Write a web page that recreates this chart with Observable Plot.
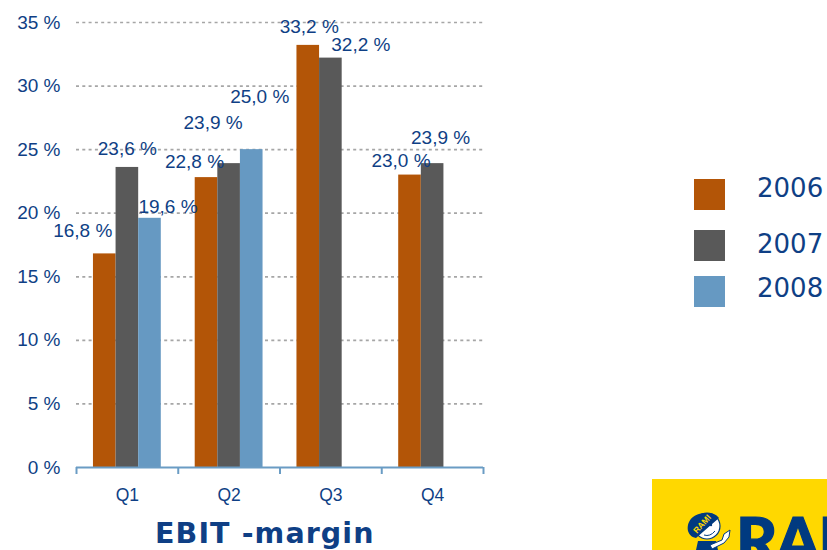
<!DOCTYPE html>
<html><head><meta charset="utf-8">
<script src="https://cdn.jsdelivr.net/npm/d3@7"></script>
<script src="https://cdn.jsdelivr.net/npm/@observablehq/plot@0.6"></script>
<style>
html,body{margin:0;padding:0;background:#fff;overflow:hidden}
#stage{position:relative;width:827px;height:550px;overflow:hidden}
#chart svg{display:block}
.swatch{position:absolute;left:694px;width:31px;height:31px}
.year{position:absolute;left:757px;font:26px "DejaVu Sans";color:#0F3F85;line-height:30px}
#title{position:absolute;left:155px;top:517px;font:bold 28.5px "DejaVu Sans";color:#0F3F85;letter-spacing:1.1px;white-space:nowrap;line-height:34px}
#logo{position:absolute;left:652px;top:479px;width:175px;height:71px;background:#FFD800;overflow:hidden}
#logo .word{position:absolute;left:84px;top:29px;font:900 64px "Lato";color:#003A80;line-height:64px;letter-spacing:-2px;-webkit-text-stroke:1.2px #003A80}
#logo svg{position:absolute;left:30px;top:28px}
</style></head><body>
<div id="stage">
<div id="chart"></div>
<div id="title">EBIT -margin</div>
<div id="legend"></div>
<div id="logo">
  <div class="word">RAM</div>
  <svg width="52" height="43" viewBox="0 0 52 43">
    <path d="M16 34 L34 34 L36 43 L14 43 Z" fill="#003A80"/>
    <path d="M28 38 L40 33 L42 27 L48 23 L47 30 L42 36 L30 42 Z" fill="#fff" stroke="#003A80" stroke-width="1"/>
    <circle cx="25" cy="19" r="13" fill="#fff" stroke="#003A80" stroke-width="1.2"/>
    <path d="M6 24 C4 12 14 5 26 6 C31 6 35 8 37 11 L14 31 C9 30 7 27 6 24 Z" fill="#003A80"/>
    <text x="0" y="0" transform="translate(15 27) rotate(-48)" font-family="Liberation Sans" font-weight="700" font-size="8.5" fill="#FFD800">RAMI</text>
    <circle cx="29" cy="18" r="1.2" fill="#003A80"/>
    <path d="M22 28 Q28 30 33 24" stroke="#003A80" fill="none"/>
  </svg>
</div>
</div>
<script>
const quarters = ["Q1", "Q2", "Q3", "Q4"];
const years = ["2006", "2007", "2008"];
const values2006 = [16.8, 22.8, 33.2, 23.0];
const values2007 = [23.6, 23.9, 32.2, 23.9];
const values2008 = [19.6, 25.0, null, null];
const colors = ["#B35507", "#595959", "#6699C2"];
const ink = "#0F3F85";
const axisBlue = "#6A9CC4";

const series = [values2006, values2007, values2008];
const rows = [];
series.forEach((vals, yi) => vals.forEach((v, qi) => {
  if (v != null) rows.push({quarter: quarters[qi], qi, yi, year: years[yi], value: v});
}));

// label nudges as placed in the source slide [dx, dy], keyed by quarter + year
const nudges = {
  "Q1 2006": [-22, -23], "Q1 2007": [0, -19], "Q1 2008": [18, -11],
  "Q2 2006": [-12, -16], "Q2 2007": [-16, -41], "Q2 2008": [8, -53],
  "Q3 2006": [1, -18], "Q3 2007": [30, -13],
  "Q4 2006": [-9, -14], "Q4 2007": [8, -26]
};
const fmt = v => v.toFixed(1).replace(".", ",") + " %";
const barOffset = 1 / 6, barStep = 2 / 9;

const plot = Plot.plot({
  width: 827, height: 550,
  marginLeft: 76, marginRight: 344, marginTop: 22, marginBottom: 83,
  style: {fontFamily: "Liberation Sans", background: "#fff", overflow: "visible"},
  x: {type: "linear", domain: [0, 4]},
  y: {domain: [0, 35]},
  color: {domain: years, range: colors},
  marks: [
    Plot.ruleY(d3.range(5, 36, 5), {stroke: "#a6a6a6", strokeWidth: 1.7, strokeDasharray: "3,3.3"}),
    Plot.rectY(rows, {
      x1: d => d.qi + barOffset + d.yi * barStep,
      x2: d => d.qi + barOffset + (d.yi + 1) * barStep,
      y1: 0, y2: "value", fill: "year"
    }),
    Plot.ruleY([0], {stroke: axisBlue, strokeWidth: 2}),
    Plot.axisX({ticks: [0, 1, 2, 3, 4], tickFormat: () => "", tickSize: 7, stroke: axisBlue, strokeWidth: 2, label: null}),
    Plot.axisX({ticks: [0.5, 1.5, 2.5, 3.5], tickFormat: t => quarters[Math.floor(t)], tickSize: 0, tickPadding: 21,
      fontSize: 17.5, fill: ink, label: null}),
    Plot.axisY({ticks: d3.range(0, 36, 5), tickFormat: t => t + " %", tickSize: 0, tickPadding: 16,
      fontSize: 19, fill: ink, label: null}),
    ...rows.map(d => {
      const [dx, dy] = nudges[d.quarter + " " + d.year];
      return Plot.text([d], {
        x: r => r.qi + barOffset + (r.yi + 0.5) * barStep,
        y: "value", text: r => fmt(r.value), fontSize: 19, fill: ink, dx, dy
      });
    })
  ]
});
document.getElementById("chart").appendChild(plot);

const swatchTops = [179, 230, 276];
const yearTops = [173, 229, 273];
const legend = document.getElementById("legend");
years.forEach((y, i) => {
  const s = document.createElement("div");
  s.className = "swatch"; s.style.top = swatchTops[i] + "px"; s.style.background = colors[i];
  const t = document.createElement("div");
  t.className = "year"; t.style.top = yearTops[i] + "px"; t.textContent = y;
  legend.append(s, t);
});
</script>
</body></html>
